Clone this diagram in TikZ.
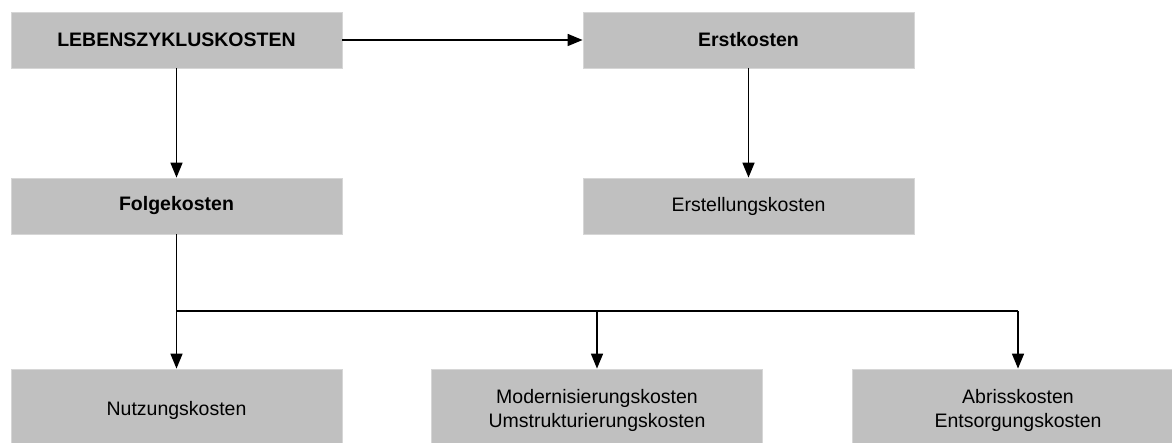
\documentclass[tikz,border=0pt]{standalone}
\usepackage{fontspec}
\setmainfont{Liberation Sans}
\usetikzlibrary{arrows.meta}
\definecolor{boxgray}{HTML}{C0C0C0}
\definecolor{boxedge}{HTML}{D6D6D6}
\begin{document}
\begin{tikzpicture}[x=1pt,y=-1pt,
  costbox/.style={rectangle, fill=boxgray, draw=boxedge, line width=0.8pt,
    minimum width=331pt, minimum height=56pt, inner sep=0pt, align=center,
    font=\fontsize{19.5}{24}\selectfont},
  headbox/.style={costbox, font=\fontsize{19.5}{24}\selectfont\bfseries},
  lowbox/.style={costbox, minimum height=82pt},
  link/.style={line width=1.6pt, -{Triangle[length=15pt,width=12pt]}},
  bus/.style={line width=1.6pt}]
  \useasboundingbox (0,0) rectangle (1172,443);
  \clip (0,0) rectangle (1172,443);

  % upper levels
  \node[headbox] (lz) at (176.5,40) {LEBENSZYKLUSKOSTEN};
  \node[headbox] (ek) at (748.5,40) {Erstkosten};
  \node[headbox] (fk) at (176.5,206) {Folgekosten};
  \node[costbox] (esk) at (748.5,206) {Erstellungskosten};

  % lowest level
  \node[lowbox] (nk) at (176.5,410) {Nutzungskosten};
  \node[lowbox] (mk) at (597,410) {Modernisierungskosten\\Umstrukturierungskosten};
  \node[lowbox] (ak) at (1018,410) {Abrisskosten\\Entsorgungskosten};

  % connectors
  \draw[link] (lz.east) -- (ek.west);
  \draw[link] (lz.south) -- (fk.north);
  \draw[link] (ek.south) -- (esk.north);

  \coordinate (busL) at (176.5,311);
  \coordinate (busM) at (597,311);
  \coordinate (busR) at (1018,311);
  \draw[link] (fk.south) -- (nk.north);
  \draw[bus] (busL) -- (busR);
  \draw[link] (busR) -- (ak.north);
  \draw[link] (busM) -- (mk.north);
\end{tikzpicture}
\end{document}
